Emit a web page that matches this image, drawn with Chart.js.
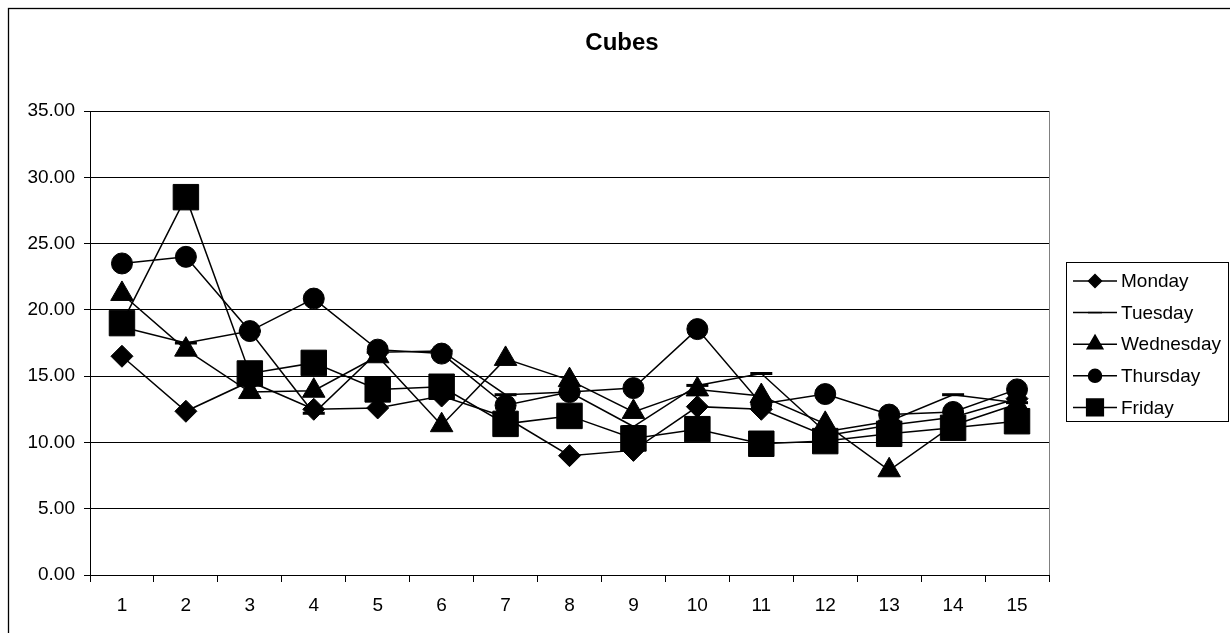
<!DOCTYPE html>
<html>
<head>
<meta charset="utf-8">
<script src="https://cdn.jsdelivr.net/npm/chart.js@4/dist/chart.umd.min.js"></script>
<style>
  body { margin: 0; background: #fff; }
  #wrap { width: 1230px; height: 633px; }
</style>
</head>
<body>
<div id="wrap"><canvas id="grafico" width="1230" height="633"></canvas></div>
<script>
const categorias = ['1','2','3','4','5','6','7','8','9','10','11','12','13','14','15'];
const nomes = ['Monday', 'Tuesday', 'Wednesday', 'Thursday', 'Friday'];
const monday    = [16.5, 12.35, 14.6, 12.5, 12.6, 13.5, 11.9, 9.0, 9.4, 12.7, 12.5, 10.5, 11.3, 11.9, 13.3];
const tuesday   = [18.7, 17.5, 18.4, 12.2, 16.8, 16.9, 13.6, 13.8, 11.2, 14.3, 15.2, 10.8, 11.6, 13.6, 13.0];
const wednesday = [21.2, 17.0, 13.8, 13.9, 16.5, 11.3, 16.3, 14.7, 12.3, 14.0, 13.5, 11.4, 7.9, 11.3, 12.9];
const thursday  = [23.5, 24.0, 18.4, 20.85, 17.0, 16.7, 12.8, 13.8, 14.1, 18.55, 12.9, 13.65, 12.1, 12.3, 14.0];
const friday    = [19.0, 28.5, 15.2, 16.0, 14.0, 14.2, 11.4, 12.0, 10.3, 11.0, 9.9, 10.1, 10.65, 11.1, 11.6];
const yTicks = [0, 5, 10, 15, 20, 25, 30, 35];
const titulo = 'Cubes';

const series = [monday, tuesday, wednesday, thursday, friday];
const estilos = ['rectRot', 'line', 'triangle', 'circle', 'rect'];
const raios = [11, 11, 13, 10.5, 18];
const raiosLegenda = [6.5, 7, 9, 6.5, 11.8];

const fonte = "'Liberation Sans', Arial, sans-serif";
Chart.defaults.font.family = fonte;
Chart.defaults.color = '#000';

// moldura, titulo, borda da area e legenda desenhadas a mao
const extras = {
    id: 'extras',
    afterDraw(chart) {
        const ctx = chart.ctx;
        const a = chart.chartArea;
        ctx.save();
        ctx.strokeStyle = '#000';
        ctx.lineWidth = 1.3;
        ctx.strokeRect(8.5, 8.5, 1240, 650);

        ctx.fillStyle = '#000';
        ctx.font = 'bold 24px ' + fonte;
        ctx.textAlign = 'center';
        ctx.textBaseline = 'middle';
        ctx.fillText(titulo, 622, 43);

        ctx.strokeStyle = '#808080';
        ctx.lineWidth = 1;
        ctx.beginPath();
        ctx.moveTo(Math.round(a.right) + 0.5, a.top);
        ctx.lineTo(Math.round(a.right) + 0.5, a.bottom);
        ctx.stroke();

        ctx.strokeStyle = '#000';
        ctx.lineWidth = 1;
        ctx.strokeRect(1066.5, 262.5, 162, 159);

        for (let i = 0; i < nomes.length; i++) {
            const y = 281 + i * 31.6;
            ctx.strokeStyle = '#000';
            ctx.fillStyle = '#000';
            ctx.lineWidth = 1.5;
            ctx.beginPath();
            ctx.moveTo(1073, y);
            ctx.lineTo(1117, y);
            ctx.stroke();
            Chart.helpers.drawPoint(ctx, {
                pointStyle: estilos[i],
                radius: raiosLegenda[i],
                rotation: 0,
                borderWidth: estilos[i] === 'line' ? 3 : 1
            }, 1095, y);
            ctx.font = '19px ' + fonte;
            ctx.textBaseline = 'middle';
            ctx.textAlign = 'left';
            ctx.fillText(nomes[i], 1121, y + 1);
        }
        ctx.restore();
    }
};

const datasets = series.map((dados, i) => ({
    label: nomes[i],
    data: dados,
    order: series.length - 1 - i,
    borderColor: '#000',
    backgroundColor: '#000',
    borderWidth: 1.5,
    tension: 0,
    pointStyle: estilos[i],
    pointRadius: raios[i],
    pointHoverRadius: raios[i],
    pointBackgroundColor: '#000',
    pointBorderColor: '#000',
    pointBorderWidth: estilos[i] === 'line' ? 3 : 1
}));

const ctx = document.getElementById('grafico').getContext('2d');
new Chart(ctx, {
    type: 'line',
    data: { labels: categorias, datasets: datasets },
    plugins: [extras],
    options: {
        responsive: false,
        animation: false,
        layout: { padding: { left: 0, right: 181, top: 111, bottom: 0 } },
        scales: {
            x: {
                offset: true,
                grid: { offset: true, drawOnChartArea: false, drawTicks: true, tickLength: 7, tickColor: '#000' },
                border: { color: '#000', width: 1 },
                ticks: { font: { size: 19 }, padding: 12, maxRotation: 0, color: '#000' },
                afterFit(s) { s.height = 58; }
            },
            y: {
                min: 0,
                max: 35,
                afterBuildTicks(s) { s.ticks = yTicks.map(v => ({ value: v })); },
                grid: { color: '#000', lineWidth: 1, tickLength: 6, tickColor: '#000' },
                border: { color: '#000', width: 1 },
                ticks: { font: { size: 19 }, padding: 9, color: '#000', callback: v => v.toFixed(2) },
                afterFit(s) { s.width = 90; }
            }
        },
        plugins: {
            legend: { display: false },
            tooltip: { enabled: false },
            title: { display: false }
        }
    }
});
</script>
</body>
</html>
